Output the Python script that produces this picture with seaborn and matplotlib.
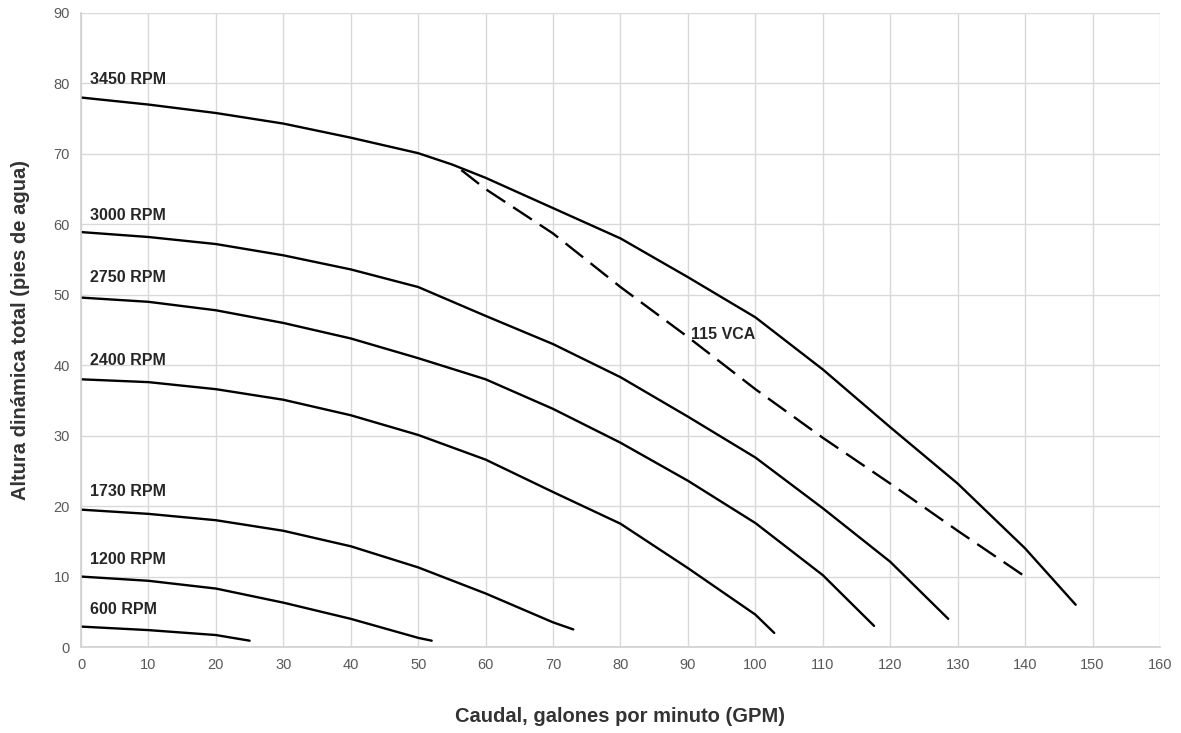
import matplotlib
matplotlib.use('Agg')
import matplotlib.pyplot as plt
import seaborn as sns
import pandas as pd

# curve data (GPM, feet of head)
rpm_3450_x = [0, 10, 20, 30, 40, 50, 55, 60, 70, 80, 90, 100, 110, 120, 130, 140, 147.5]
rpm_3450_y = [78, 77, 75.8, 74.3, 72.3, 70.1, 68.5, 66.6, 62.3, 58, 52.5, 46.8, 39.4, 31.2, 23.2, 14, 6]

rpm_3000_x = [0, 10, 20, 30, 40, 50, 60, 70, 80, 90, 100, 110, 120, 128.6]
rpm_3000_y = [58.9, 58.2, 57.2, 55.6, 53.6, 51.1, 47, 43, 38.3, 32.7, 26.9, 19.7, 12.1, 4]

rpm_2750_x = [0, 10, 20, 30, 40, 50, 60, 70, 80, 90, 100, 110, 117.6]
rpm_2750_y = [49.6, 49, 47.8, 46, 43.8, 41, 38, 33.8, 29, 23.6, 17.6, 10.2, 3]

rpm_2400_x = [0, 10, 20, 30, 40, 50, 60, 70, 80, 90, 100, 102.8]
rpm_2400_y = [38, 37.6, 36.6, 35.1, 32.9, 30.1, 26.6, 22, 17.5, 11.2, 4.6, 2]

rpm_1730_x = [0, 10, 20, 30, 40, 50, 60, 70, 73]
rpm_1730_y = [19.5, 18.9, 18, 16.5, 14.3, 11.3, 7.6, 3.5, 2.5]

rpm_1200_x = [0, 10, 20, 30, 40, 50, 52]
rpm_1200_y = [10, 9.4, 8.3, 6.3, 4, 1.3, 0.9]

rpm_600_x = [0, 10, 20, 25]
rpm_600_y = [2.9, 2.4, 1.7, 0.9]

vca_x = [56.4, 60, 70, 80, 90, 100, 110, 120, 130, 140]
vca_y = [67.7, 65, 58.7, 51.1, 44, 36.6, 29.7, 23.2, 16.5, 10]

curve_names = ['3450 RPM', '3000 RPM', '2750 RPM', '2400 RPM', '1730 RPM', '1200 RPM', '600 RPM']
curve_x = [rpm_3450_x, rpm_3000_x, rpm_2750_x, rpm_2400_x, rpm_1730_x, rpm_1200_x, rpm_600_x]
curve_y = [rpm_3450_y, rpm_3000_y, rpm_2750_y, rpm_2400_y, rpm_1730_y, rpm_1200_y, rpm_600_y]
label_y = [80.5, 61.3, 52.4, 40.7, 22.1, 12.4, 5.3]

sns.set_style('white')
plt.rcParams['font.family'] = ['Liberation Sans', 'DejaVu Sans']

fig = plt.figure(figsize=(11.81, 7.33), dpi=100)
ax = fig.add_axes([0.0686, 0.1173, 0.9136, 0.865])

label_font = ['Liberation Sans Narrow', 'Liberation Sans', 'DejaVu Sans']

for name, xs, ys, ly in zip(curve_names, curve_x, curve_y, label_y):
    df = pd.DataFrame({'gpm': xs, 'head': ys})
    sns.lineplot(data=df, x='gpm', y='head', color='black', linewidth=1.7, ax=ax, sort=False)
    ax.text(1.35, ly, name, fontsize=11.5, fontweight='bold', color='#262626',
            family=label_font, ha='left', va='center')

# 115 VCA limit line
df_vca = pd.DataFrame({'gpm': vca_x, 'head': vca_y})
sns.lineplot(data=df_vca, x='gpm', y='head', color='black', linewidth=1.7,
             linestyle=(0, (9.5, 4)), ax=ax, sort=False)
ax.text(90.5, 44.3, '115 VCA', fontsize=11.5, fontweight='bold', color='#262626',
        family=label_font, ha='left', va='center')

ax.set_xlim(0, 160)
ax.set_ylim(0, 90)
ax.set_xticks(range(0, 161, 10))
ax.set_yticks(range(0, 91, 10))
ax.grid(True, color='#d9d9d9', linewidth=1)
ax.set_axisbelow(True)
for s in ['top', 'right']:
    ax.spines[s].set_visible(False)
for s in ['left', 'bottom']:
    ax.spines[s].set_color('#d0d0d0')
    ax.spines[s].set_linewidth(1.2)
ax.tick_params(axis='both', colors='#595959', labelsize=10.5, length=0, pad=8)

ax.set_xlabel('Caudal, galones por minuto (GPM)', fontsize=14.5, fontweight='bold',
              color='#333333', labelpad=25)
ax.set_ylabel('Altura dinámica total (pies de agua)', fontsize=14.5, fontweight='bold',
              color='#333333', labelpad=17)

fig.savefig('out.png', dpi=100)
